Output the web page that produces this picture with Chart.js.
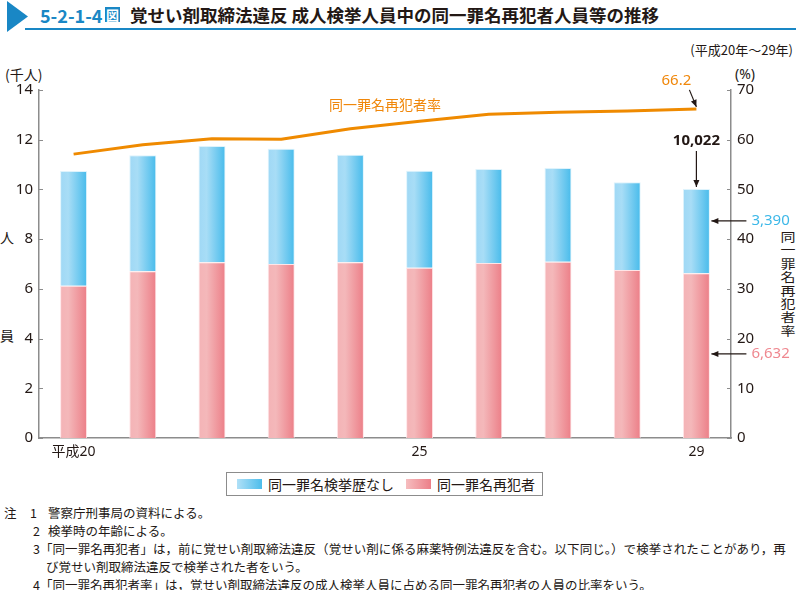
<!DOCTYPE html>
<html><head><meta charset="utf-8">
<script src="https://cdn.jsdelivr.net/npm/chart.js@4/dist/chart.umd.min.js"></script>
<style>
html,body{margin:0;padding:0;background:#fff;}
body{width:796px;height:590px;position:relative;overflow:hidden;font-family:'Noto Sans','Noto Sans CJK JP',sans-serif;color:#231815;}
.abs{position:absolute;white-space:nowrap;}
.jp{font-family:'Noto Sans CJK JP',sans-serif;}
.note{position:absolute;white-space:nowrap;font-family:'Noto Sans CJK JP',sans-serif;font-size:12.5px;line-height:18px;color:#231815;}
.vt{position:absolute;left:779px;top:230px;width:18px;font-family:'Noto Sans CJK JP',sans-serif;font-size:12.5px;line-height:13.4px;text-align:center;white-space:normal;word-break:break-all;transform:scaleX(1.2);transform-origin:center top;}
#cv{position:absolute;left:0;top:0;}
</style></head><body>
<div class="abs" style="left:7px;top:1px;width:21px;height:31px;background:#1987c5;clip-path:polygon(0 0,100% 50%,0 100%);"></div>
<div class="abs" style="left:25px;top:28px;width:771px;height:2px;background:#1987c5;"></div>
<div class="abs jp" style="left:40px;top:3px;font-size:18px;font-weight:bold;color:#1987c5;line-height:24px;">5-2-1-4</div>
<div class="abs jp" style="left:105px;top:7px;width:15px;height:15px;background:#1987c5;color:#fff;font-size:13px;font-weight:bold;line-height:15px;text-align:center;">図</div>
<div class="abs jp" style="left:130px;top:3px;font-size:17.5px;font-weight:bold;line-height:24px;color:#231815;">覚せい剤取締法違反 成人検挙人員中の同一罪名再犯者人員等の推移</div>
<div class="abs jp" style="right:3px;top:41px;font-size:13px;line-height:18px;">(平成20年〜29年)</div>
<div class="abs jp" style="left:5px;top:65px;font-size:14px;line-height:18px;">(千人)</div>
<div class="abs" style="left:735px;top:65px;font-size:14px;line-height:18px;">(%)</div>
<div class="abs jp" style="left:0px;top:228px;font-size:14px;line-height:18px;">人</div>
<div class="abs jp" style="left:0px;top:326px;font-size:14px;line-height:18px;">員</div>
<div class="vt">同一罪名再犯者率</div>

<canvas id="cv" width="796" height="470"></canvas>

<div class="abs" style="left:226px;top:472px;width:317px;height:24px;border:1px solid #8c8c8c;box-sizing:border-box;"></div>
<div class="abs" style="left:237px;top:479px;width:25px;height:10px;background:linear-gradient(to right,#b0e0f7,#4dbdeb);"></div>
<div class="abs jp" style="left:268px;top:475px;font-size:14px;line-height:18px;">同一罪名検挙歴なし</div>
<div class="abs" style="left:406px;top:479px;width:25px;height:10px;background:linear-gradient(to right,#f6bdbf,#ec7f88);"></div>
<div class="abs jp" style="left:437px;top:475px;font-size:14px;line-height:18px;">同一罪名再犯者</div>

<div class="note" style="left:4px;top:504px;">注</div>
<div class="note" style="left:30px;top:504px;">1</div>
<div class="note" style="left:48px;top:504px;">警察庁刑事局の資料による。</div>
<div class="note" style="left:33px;top:522px;">2</div>
<div class="note" style="left:48px;top:522px;">検挙時の年齢による。</div>
<div class="note" style="left:33px;top:540px;">3</div>
<div class="note" style="left:40px;top:540px;letter-spacing:0.05px;">「同一罪名再犯者」は，前に覚せい剤取締法違反（覚せい剤に係る麻薬特例法違反を含む。以下同じ。）で検挙されたことがあり，再</div>
<div class="note" style="left:46px;top:558px;">び覚せい剤取締法違反で検挙された者をいう。</div>
<div class="note" style="left:33px;top:576px;">4</div>
<div class="note" style="left:40px;top:576px;">「同一罪名再犯者率」は，覚せい剤取締法違反の成人検挙人員に占める同一罪名再犯者の人員の比率をいう。</div>

<script>
// ---- data ----
const categories = ['平成20','21','22','23','24','25','26','27','28','29'];
const tickLabels = ['平成20','','','','','25','','','','29'];
// 同一罪名再犯者 (千人)
const recidivists = [6.13, 6.71, 7.07, 7.00, 7.07, 6.85, 7.04, 7.09, 6.76, 6.632];
// 同一罪名検挙歴なし (千人)
const noPriorSame = [4.61, 4.66, 4.68, 4.64, 4.33, 3.90, 3.78, 3.77, 3.53, 3.390];
// 同一罪名再犯者率 (%)
const recidivismRate = [57.1, 59.0, 60.2, 60.1, 62.2, 63.7, 65.1, 65.5, 65.8, 66.2];
const leftAxis = {min: 0, max: 14, step: 2};
const rightAxis = {min: 0, max: 70, step: 10};

const BAR_PCT = 0.39;
const FONT = "'Noto Sans','Noto Sans CJK JP',sans-serif";

function barGradient(stops, fallback){
  return function(ctx){
    const chart = ctx.chart;
    const xs = chart.scales && chart.scales.x;
    if (!xs || ctx.dataIndex === undefined || !chart.chartArea) return fallback;
    const cx = xs.getPixelForValue(ctx.dataIndex);
    const w = (xs.width / categories.length) * BAR_PCT;
    const g = chart.ctx.createLinearGradient(cx - w/2, 0, cx + w/2, 0);
    stops.forEach(s => g.addColorStop(s[0], s[1]));
    return g;
  };
}

function arrow(c, x1, y1, x2, y2){
  c.beginPath(); c.moveTo(x1, y1); c.lineTo(x2, y2); c.stroke();
  const a = Math.atan2(y2 - y1, x2 - x1), L = 7, W = 3;
  c.beginPath();
  c.moveTo(x2, y2);
  c.lineTo(x2 - L*Math.cos(a) + W*Math.sin(a), y2 - L*Math.sin(a) - W*Math.cos(a));
  c.lineTo(x2 - L*Math.cos(a) - W*Math.sin(a), y2 - L*Math.sin(a) + W*Math.cos(a));
  c.closePath(); c.fill();
}

const annot = {
  id: 'annot',
  afterDraw(chart){
    const c = chart.ctx, xs = chart.scales.x, y = chart.scales.y, y2 = chart.scales.y2;
    c.save();
    // inward tick marks
    c.strokeStyle = '#8c8c8c'; c.lineWidth = 1;
    y.ticks.forEach(t => { const p = Math.round(y.getPixelForValue(t.value)) + 0.5;
      c.beginPath(); c.moveTo(xs.left, p); c.lineTo(xs.left + 4, p); c.stroke(); });
    y2.ticks.forEach(t => { const p = Math.round(y2.getPixelForValue(t.value)) + 0.5;
      c.beginPath(); c.moveTo(xs.right - 4, p); c.lineTo(xs.right, p); c.stroke(); });

    const last = categories.length - 1;
    const lx = xs.getPixelForValue(last);
    const total = recidivists[last] + noPriorSame[last];
    const fmt = v => Math.round(v * 1000).toLocaleString('en-US');
    c.textAlign = 'center'; c.textBaseline = 'middle';

    // line label
    c.fillStyle = '#f0870a'; c.font = "14px 'Noto Sans CJK JP'";
    const mx = (xs.getPixelForValue(4) + xs.getPixelForValue(5)) / 2;
    c.fillText('同一罪名再犯者率', mx, y2.getPixelForValue(67));

    // 66.2
    const py = y2.getPixelForValue(recidivismRate[last]);
    c.font = "15px " + FONT; c.fillStyle = '#f0870a';
    c.fillText(recidivismRate[last].toFixed(1), lx - 20, py - 28);
    c.strokeStyle = '#231815'; c.fillStyle = '#231815'; c.lineWidth = 1.2;
    arrow(c, lx - 7, py - 19, lx, py - 2);

    // 10,022
    const ty = y.getPixelForValue(total);
    c.font = "bold 15px " + FONT; c.fillStyle = '#231815';
    c.fillText(fmt(total), lx, ty - 48);
    arrow(c, lx, ty - 38, lx, ty - 2);

    // 3,390 and 6,632
    c.textAlign = 'left'; c.font = "15px " + FONT;
    const by = y.getPixelForValue(recidivists[last] + noPriorSame[last] * 0.62);
    const ry = y.getPixelForValue(recidivists[last] * 0.51);
    c.fillStyle = '#231815';
    arrow(c, lx + 50, by, lx + 15, by);
    arrow(c, lx + 50, ry, lx + 15, ry);
    c.fillStyle = '#3db8e8'; c.fillText(fmt(noPriorSame[last]), lx + 55, by);
    c.fillStyle = '#ef8890'; c.fillText(fmt(recidivists[last]), lx + 55, ry);
    c.restore();
  }
};

new Chart(document.getElementById('cv'), {
  type: 'bar',
  data: {
    labels: categories,
    datasets: [
      { type: 'line', label: '同一罪名再犯者率', data: recidivismRate, yAxisID: 'y2', order: 0,
        borderColor: '#ef8a00', borderWidth: 3, pointRadius: 0, tension: 0, fill: false,
        borderJoinStyle: 'round' },
      { label: '同一罪名再犯者', data: recidivists, yAxisID: 'y', order: 1, stack: 's',
        backgroundColor: barGradient([[0,'#f4b3b6'],[0.3,'#f4b8ba'],[1,'#ec7e87']], '#f09ca2'),
        borderColor: 'rgba(255,228,230,0.95)', borderWidth: 1, borderSkipped: 'start',
        barPercentage: BAR_PCT, categoryPercentage: 1 },
      { label: '同一罪名検挙歴なし', data: noPriorSame, yAxisID: 'y', order: 1, stack: 's',
        backgroundColor: barGradient([[0,'#9fd8f5'],[0.3,'#a8ddf6'],[1,'#47bbeb']], '#7ccbf0'),
        borderColor: 'rgba(220,242,252,0.95)', borderWidth: 1, borderSkipped: 'start',
        barPercentage: BAR_PCT, categoryPercentage: 1 }
    ]
  },
  options: {
    responsive: false, animation: false, events: [], devicePixelRatio: 1,
    layout: { padding: { top: 90, left: 0, right: 0, bottom: 0 } },
    plugins: { legend: { display: false }, tooltip: { enabled: false } },
    scales: {
      x: {
        stacked: true,
        grid: { display: false, drawTicks: false },
        border: { color: '#8c8c8c', width: 1.5 },
        ticks: { autoSkip: false, maxRotation: 0, padding: 6, color: '#231815',
          font: { size: 14, family: FONT },
          callback: (v, i) => tickLabels[i] },
        afterFit: s => { s.height = 32; }
      },
      y: {
        position: 'left', stacked: true,
        min: leftAxis.min, max: leftAxis.max,
        grid: { display: false, drawTicks: false },
        border: { color: '#8c8c8c', width: 1.5 },
        ticks: { stepSize: leftAxis.step, padding: 6, color: '#231815', font: { size: 15, family: FONT } },
        afterFit: s => { s.width = 39; }
      },
      y2: {
        position: 'right',
        min: rightAxis.min, max: rightAxis.max,
        grid: { display: false, drawTicks: false },
        border: { color: '#8c8c8c', width: 1.5 },
        ticks: { stepSize: rightAxis.step, padding: 6, color: '#231815', font: { size: 15, family: FONT } },
        afterFit: s => { s.width = 65; }
      }
    }
  },
  plugins: [annot]
});
</script>
</body></html>
